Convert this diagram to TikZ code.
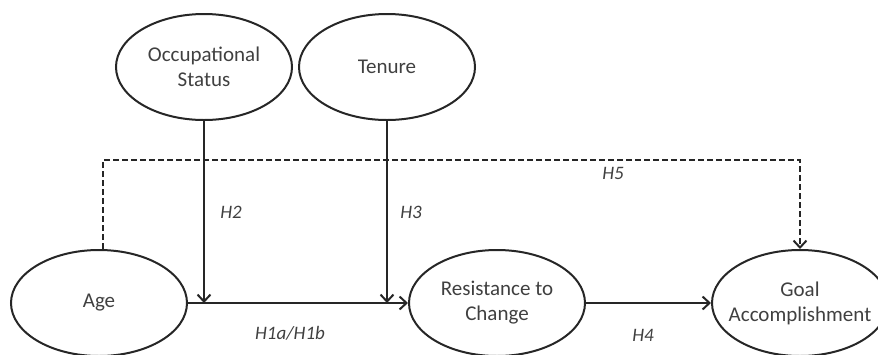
\documentclass[tikz,border=0pt]{standalone}
\usepackage{fontspec}
\setmainfont{Carlito}
\usetikzlibrary{shapes.geometric,arrows.meta}
\definecolor{txt}{HTML}{404040}
\definecolor{ln}{HTML}{262626}
\tikzset{
  var/.style={ellipse,draw=ln,line width=2pt,minimum width=176pt,minimum height=106pt,inner sep=0pt,inner xsep=-15pt,align=center,text=txt,font=\fontsize{21}{25}\selectfont},
  link/.style={draw=ln,line width=2pt,-{Straight Barb[length=7pt,width=13pt,line width=2pt]}},
  dlink/.style={link,dash pattern=on 6pt off 3pt},
  hyp/.style={text=txt,font=\fontsize{19}{23}\selectfont\itshape}
}
\begin{document}
\begin{tikzpicture}[x=1pt,y=-1pt]
\useasboundingbox (0,0) rectangle (878,354);
\node[var] (occ) at (204,67) {Occupational\\Status};
\node[var] (ten) at (387,67) {Tenure};
\node[var] (age) at (99,303) {Age};
\node[var] (res) at (497,303) {Resistance to\\Change};
\node[var] (goal) at (800,303) {Goal\\Accomplishment};
\coordinate (j1) at (occ.south |- res.west);
\coordinate (j2) at (ten.south |- res.west);
\coordinate (d1) at (103,160);
\coordinate (d2) at (goal.north |- d1);
\draw[link] (age.east) -- (res.west);
\draw[link] (occ.south) -- (j1);
\draw[link] (ten.south) -- (j2);
\draw[link] (res.east) -- (goal.west);
\draw[dlink] (age.north -| d1) -- (d1) -- (d2) -- (goal.north);
\node[hyp] (h2) at (231,212) {H2};
\node[hyp] (h3) at (411,212) {H3};
\node[hyp] (h5) at (613,173) {H5};
\node[hyp] (h1) at (290,333) {H1a/H1b};
\node[hyp] (h4) at (643,335) {H4};
\end{tikzpicture}
\end{document}
